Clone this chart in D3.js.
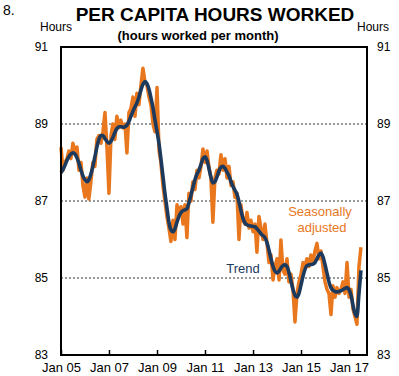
<!DOCTYPE html>
<html>
<head>
<meta charset="utf-8">
<script src="https://cdn.jsdelivr.net/npm/d3@7"></script>
<style>
  body { margin: 0; background: #fff; }
  text { font-family: Arial, "Liberation Sans", sans-serif; }
</style>
</head>
<body>
<script>
// Monthly data, Jan 2005 -> Jul 2017
const startYear = 2005;

const trend = [
  87.73, 87.82, 87.92, 88.05, 88.15, 88.22, 88.25, 88.22, 88.12, 87.98, 87.80, 87.65,
  87.55, 87.50, 87.55, 87.70, 87.90, 88.15, 88.40, 88.60, 88.70, 88.70, 88.62, 88.55,
  88.50, 88.55, 88.65, 88.78, 88.88, 88.93, 88.93, 88.92, 88.93, 88.97, 89.07, 89.20,
  89.33, 89.45, 89.55, 89.70, 89.88, 90.03, 90.10, 90.05, 89.90, 89.68, 89.42, 89.10,
  88.80, 88.48, 88.10, 87.65, 87.20, 86.82, 86.45, 86.25, 86.20, 86.28, 86.45, 86.60,
  86.70, 86.75, 86.77, 86.80, 86.95, 87.15, 87.35, 87.55, 87.70, 87.80, 87.95, 88.10,
  88.15, 88.05, 87.85, 87.62, 87.47, 87.50, 87.62, 87.78, 87.88, 87.90, 87.85, 87.75,
  87.65, 87.50, 87.38, 87.28, 87.18, 86.98, 86.75, 86.55, 86.43, 86.38, 86.36, 86.35,
  86.34, 86.33, 86.28, 86.22, 86.15, 86.10, 86.05, 85.92, 85.72, 85.50, 85.30, 85.18,
  85.13, 85.18, 85.26, 85.32, 85.34, 85.30, 85.15, 84.92, 84.70, 84.55, 84.50, 84.60,
  84.82, 85.05, 85.22, 85.32, 85.34, 85.35, 85.36, 85.40, 85.50, 85.60, 85.65, 85.55,
  85.35, 85.12, 84.90, 84.75, 84.68, 84.65, 84.64, 84.65, 84.67, 84.70, 84.73, 84.75,
  84.70, 84.55, 84.30, 84.08, 84.00, 84.60, 85.20
];

const seasAdj = [
  88.40, 87.80, 88.00, 88.10, 88.30, 88.10, 88.50, 88.30, 88.40, 87.80, 88.00, 87.40,
  87.10, 87.60, 87.05, 87.50, 88.00, 87.90, 88.60, 88.70, 88.50, 88.80, 89.30, 88.40,
  87.20, 88.70, 89.00, 88.60, 89.20, 88.90, 89.10, 88.90, 89.00, 88.25, 89.30, 89.40,
  89.70, 89.20, 89.80, 89.50, 90.00, 90.45, 90.10, 90.00, 89.70, 89.50, 89.00, 88.80,
  89.95, 88.30, 88.00, 87.40, 87.00, 86.60, 86.30, 85.95, 86.50, 86.00, 86.90, 86.70,
  86.85, 86.40, 86.90, 86.05, 87.20, 87.00, 87.50, 87.30, 87.80, 87.60, 87.90, 88.35,
  88.00, 88.30, 87.90, 87.60, 86.45, 87.60, 87.80, 87.70, 88.20, 87.80, 88.10, 87.60,
  87.90, 87.40, 87.50, 87.10, 87.20, 86.00, 86.90, 86.50, 86.40, 86.70, 86.30, 86.50,
  86.20, 86.40, 85.67, 86.60, 86.30, 86.00, 86.40, 85.90, 85.40, 85.60, 84.95, 85.30,
  85.50, 84.95, 85.99, 85.20, 85.10, 85.50, 84.90, 85.10, 84.70, 83.86, 84.60, 84.90,
  85.10, 85.40, 85.30, 85.50, 85.30, 85.60, 85.40, 85.70, 85.90, 85.50, 85.70, 85.30,
  84.90, 84.70, 84.60, 84.05, 84.80, 84.50, 84.75, 84.60, 84.70, 84.90, 84.60, 85.40,
  84.50, 84.70, 84.20, 84.00, 83.80, 85.30, 85.80
];

const yTicks = [83, 85, 87, 89, 91];
const xTickYears = [2005, 2007, 2009, 2011, 2013, 2015, 2017];

const width = 399;
const height = 376;
const margin = { left: 61, right: 32, top: 47, bottom: 21 };

const orange = "#E8771E";
const navy = "#1C3A5E";

const svg = d3.select("body")
  .append("svg")
  .attr("width", width)
  .attr("height", height);

const monthDate = i => new Date(startYear, i, 1);

const x = d3.scaleTime()
  .domain([new Date(2005, 0, 1), new Date(2017, 9, 1)])
  .range([margin.left, width - margin.right]);

const y = d3.scaleLinear()
  .domain([83, 91])
  .range([height - margin.bottom, margin.top]);

// dotted gridlines
svg.selectAll(".grid")
  .data(yTicks.filter(d => d > 83 && d < 91))
  .enter().append("line")
  .attr("x1", x.range()[0])
  .attr("x2", x.range()[1])
  .attr("y1", d => y(d))
  .attr("y2", d => y(d))
  .attr("stroke", "#333")
  .attr("stroke-width", 1)
  .attr("stroke-dasharray", "2,2");

// lines
const line = d3.line()
  .x((d, i) => x(monthDate(i)))
  .y(d => y(d))
  .curve(d3.curveLinear);

svg.append("path")
  .datum(seasAdj)
  .attr("d", line)
  .attr("fill", "none")
  .attr("stroke", orange)
  .attr("stroke-width", 3.5)
  .attr("stroke-linejoin", "round");

svg.append("path")
  .datum(trend)
  .attr("d", line.curve(d3.curveMonotoneX))
  .attr("fill", "none")
  .attr("stroke", navy)
  .attr("stroke-width", 3.6)
  .attr("stroke-linejoin", "round");

// frame
svg.append("rect")
  .attr("x", x.range()[0])
  .attr("y", y.range()[1])
  .attr("width", x.range()[1] - x.range()[0])
  .attr("height", y.range()[0] - y.range()[1])
  .attr("fill", "none")
  .attr("stroke", "#000")
  .attr("stroke-width", 2);

// bottom ticks (pointing inward) and labels
const xAxis = d3.axisBottom(x)
  .tickValues(xTickYears.map(yr => new Date(yr, 0, 1)))
  .tickSize(-5)
  .tickFormat(d3.timeFormat("Jan %y"));

const gx = svg.append("g")
  .attr("transform", `translate(0,${y.range()[0]})`)
  .call(xAxis);
gx.select(".domain").remove();
gx.selectAll("line").attr("stroke", "#000").attr("stroke-width", 1.5);
gx.selectAll("text")
  .attr("y", 8)
  .attr("font-size", 13)
  .attr("font-family", "Arial, 'Liberation Sans', sans-serif")
  .attr("fill", "#000");

// y labels on both sides
const yAxisLeft = d3.axisLeft(y).tickValues(yTicks).tickSize(0).tickPadding(13);
const gl = svg.append("g")
  .attr("transform", `translate(${x.range()[0]},0)`)
  .call(yAxisLeft);
gl.select(".domain").remove();
gl.selectAll("text")
  .attr("font-size", 12)
  .attr("font-family", "Arial, 'Liberation Sans', sans-serif")
  .attr("fill", "#000");

const yAxisRight = d3.axisRight(y).tickValues(yTicks).tickSize(0).tickPadding(10);
const gr = svg.append("g")
  .attr("transform", `translate(${x.range()[1]},0)`)
  .call(yAxisRight);
gr.select(".domain").remove();
gr.selectAll("text")
  .attr("font-size", 12)
  .attr("font-family", "Arial, 'Liberation Sans', sans-serif")
  .attr("fill", "#000");

// titles and units
svg.append("text").attr("x", 3).attr("y", 15)
  .attr("font-size", 14).text("8.");

svg.append("text").attr("x", 215).attr("y", 21)
  .attr("text-anchor", "middle")
  .attr("font-size", 19).attr("font-weight", "bold")
  .text("PER CAPITA HOURS WORKED");

svg.append("text").attr("x", 198).attr("y", 40)
  .attr("text-anchor", "middle")
  .attr("font-size", 13).attr("font-weight", "bold")
  .text("(hours worked per month)");

svg.append("text").attr("x", 40).attr("y", 31)
  .attr("font-size", 12).text("Hours");
svg.append("text").attr("x", 357).attr("y", 31)
  .attr("font-size", 12).text("Hours");

// series labels
const saLabel = svg.append("text")
  .attr("text-anchor", "middle")
  .attr("font-size", 13)
  .attr("fill", orange);
saLabel.append("tspan").attr("x", 320).attr("y", 216).text("Seasonally");
saLabel.append("tspan").attr("x", 322).attr("y", 232).text("adjusted");

svg.append("text").attr("x", 243).attr("y", 273)
  .attr("text-anchor", "middle")
  .attr("font-size", 13)
  .attr("fill", navy)
  .text("Trend");
</script>
</body>
</html>
